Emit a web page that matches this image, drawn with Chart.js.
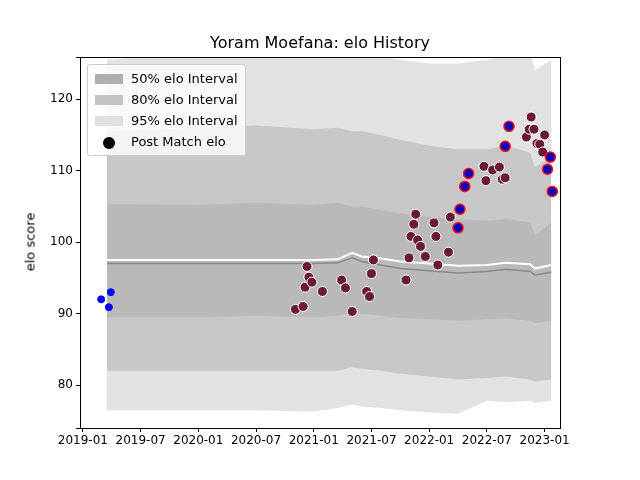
<!DOCTYPE html>
<html><head><meta charset="utf-8">
<script src="https://cdn.jsdelivr.net/npm/chart.js@4"></script>
<style>
body{margin:0;background:#fff;font-family:"DejaVu Sans",sans-serif}
#wrap{position:relative;width:640px;height:480px}
#title{position:absolute;left:80px;width:480px;top:33px;text-align:center;font-size:16px}
#ylab{position:absolute;left:30px;top:242px;transform:translate(-50%,-50%) rotate(-90deg);font-size:13px;white-space:nowrap;color:#000;font-weight:normal}
#legend{position:absolute;left:87px;top:64px;border:1px solid #ccc;border-radius:3px;background:rgba(255,255,255,0.8);padding:3px 7px;font-size:13px}
#legend div{display:flex;align-items:center;height:21px}
#legend span.sw{display:inline-block;width:28px;height:10px;margin-right:8px}
</style></head>
<body><div id="wrap"><canvas id="c" width="640" height="480"></canvas>
<div id="title">Yoram Moefana: elo History</div>
<div id="ylab">elo score</div>
<div id="legend">
<div><span class="sw" style="background:#afafaf"></span>50% elo Interval</div>
<div><span class="sw" style="background:#c4c4c4"></span>80% elo Interval</div>
<div><span class="sw" style="background:#e0e0e0"></span>95% elo Interval</div>
<div><span class="sw" style="background:none;display:inline-flex;justify-content:center"><span style="width:12px;height:12px;border-radius:50%;background:#000;display:inline-block"></span></span>Post Match elo</div>
</div></div>
<script>
// months since 2019-01
const tickLabels = ['2019-01','2019-07','2020-01','2020-07','2021-01','2021-07','2022-01','2022-07','2023-01'];
const bandX   = [2.5, 12, 18, 24, 26.5, 28, 29, 31, 33, 36, 39, 42, 44, 46.5, 47, 48.7];
const hi95    = [125.5, 126.5, 127, 126.5, 127, 126.5, 126.5, 126, 125.5, 125, 125, 125.5, 126, 126.5, 124, 125.5];
const hi80    = [115.5, 116, 116.3, 115.8, 116, 115.5, 115.5, 115, 114.3, 113.5, 113, 113, 113.5, 112.5, 110.5, 112];
const hi50    = [105.3, 105.2, 105.5, 105.2, 105.5, 105, 105, 104.5, 104, 103.5, 103.2, 103, 103.2, 102.8, 101, 102.7];
const median  = [97.5, 97.5, 97.5, 97.5, 97.6, 98.5, 98, 97.7, 97.3, 97, 96.7, 96.8, 97.1, 96.9, 96.3, 96.8];
const mean    = [97, 97, 97, 97, 97.1, 97.8, 97.3, 96.8, 96.3, 96, 95.7, 95.9, 96.2, 95.9, 95.4, 95.8];
const lo50    = [89.5, 89.5, 89.7, 89.5, 89.7, 90.2, 90, 89.7, 89.4, 89.2, 89, 89.2, 89.3, 89, 88.7, 89];
const lo80    = [82, 82, 82, 82, 82, 82.5, 82.3, 82, 81.6, 81.2, 80.8, 81, 81.2, 80.8, 80.5, 80.8];
const lo95    = [76.5, 76.5, 76.5, 76.3, 76.8, 77.3, 77, 76.8, 76.5, 76.2, 76, 77.8, 77.6, 77.8, 77.5, 77.8];

const earlyX = [1.9, 2.7, 2.9];
const earlyY = [92.0, 90.9, 93.0];
const matchX = [22.1, 22.9, 23.1, 23.3, 23.5, 23.8, 24.9, 26.9, 27.3, 28.0, 29.5, 29.8, 30.0, 30.2,
  33.6, 33.9, 34.1, 34.4, 34.6, 34.8, 35.1, 35.6, 36.5, 36.7, 36.9, 38.0, 38.2,
  41.7, 41.9, 42.6, 43.3, 43.6, 43.9, 46.1, 46.4, 46.6, 46.9, 47.2, 47.5, 47.8, 48.0];
const matchY = [90.6, 91.0, 93.7, 96.6, 95.1, 94.4, 93.1, 94.7, 93.6, 90.3, 93.1, 92.4, 95.6, 97.5,
  94.7, 97.8, 100.8, 102.5, 103.9, 100.3, 99.4, 98.0, 102.7, 100.8, 96.8, 98.6, 103.5,
  110.6, 108.6, 110.1, 110.5, 108.8, 109.0, 114.7, 115.8, 117.5, 115.8, 113.8, 113.7, 112.6, 115.0];
const eloX = [39.0, 39.2, 39.7, 40.1, 43.9, 44.3, 48.3, 48.6, 48.8];
const eloY = [102.0, 104.6, 107.8, 109.6, 113.4, 116.2, 110.2, 111.9, 107.1];

const pts = (xs, ys) => xs.map((x, i) => ({x, y: ys[i]}));
const band = (ys, fill, color, order) => ({type:'line', data: pts(bandX, ys), borderWidth:0, pointRadius:0,
  fill, backgroundColor: color || 'transparent', tension:0, order});
const g = 'rgba(128,128,128,';

const frame = {
  id: 'frame',
  afterDraw(chart) {
    const {ctx, chartArea: a} = chart;
    ctx.save(); ctx.strokeStyle = '#000'; ctx.lineWidth = 1;
    ctx.strokeRect(a.left + 0.5, a.top + 0.5, a.right - a.left, a.bottom - a.top);
    ctx.restore();
  }
};

new Chart(document.getElementById('c'), {
  type: 'scatter',
  plugins: [frame],
  data: { datasets: [
    band(hi95, '+1', g+'0.23)', 30), band(lo95, false, null, 31),
    band(hi80, '+1', g+'0.28)', 20), band(lo80, false, null, 21),
    band(hi50, '+1', g+'0.2)', 10),  band(lo50, false, null, 11),
    {type:'line', data: pts(bandX, mean), borderColor:'#888', borderWidth:1.5, pointRadius:0, fill:false, order:6},
    {type:'line', data: pts(bandX, median), borderColor:'#fff', borderWidth:2, pointRadius:0, fill:false, order:5},
    {data: pts(earlyX, earlyY), backgroundColor:'#0000ff', borderColor:'#0000ff', pointRadius:3.5, order:3},
    {data: pts(matchX, matchY), backgroundColor:'#6b1a35', borderColor:'#fff', borderWidth:1, pointRadius:5, order:2},
    {data: pts(eloX, eloY), backgroundColor:'#0000c0', borderColor:'#ff0000', borderWidth:1.5, pointRadius:5, order:1},
  ]},
  options: {
    responsive:false, animation:false, events:[],
    layout:{padding:{top:57, right:80, bottom:0, left:0}},
    plugins:{legend:{display:false}, tooltip:{enabled:false}},
    scales:{
      x:{type:'linear', min:-0.3, max:49.6,
        afterFit: s => { s.height = 52; },
        grid:{display:true, drawOnChartArea:false, tickLength:4, color:'#000'}, border:{color:'#000'},
        ticks:{autoSkip:false, color:'#000', padding:2, font:{family:'DejaVu Sans', size:12},
          callback: v => (v % 6 === 0 && v >= 0) ? tickLabels[v/6] : ''},
        afterBuildTicks: s => { s.ticks = tickLabels.map((t, i) => ({value: i*6})); }},
      y:{min:74, max:125.9,
        afterFit: s => { s.width = 80; },
        grid:{display:true, drawOnChartArea:false, tickLength:4, color:'#000'}, border:{color:'#000'},
        ticks:{stepSize:10, color:'#000', font:{family:'DejaVu Sans', size:12},
          callback: v => v % 10 === 0 ? v : ''}}
    }
  }
});
</script></body></html>
